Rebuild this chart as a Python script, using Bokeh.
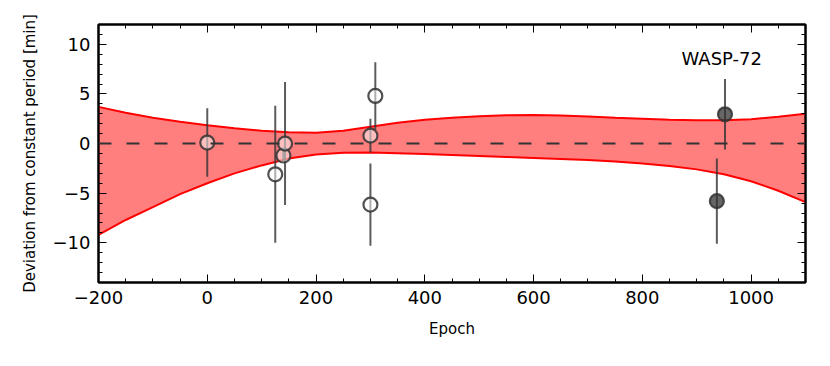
from bokeh.plotting import figure
from bokeh.models import (ColumnDataSource, LinearAxis, SingleIntervalTicker, Span,
                          Label, CustomJSTickFormatter, Range1d)
from bokeh.embed import file_html
from bokeh.resources import INLINE

# ---- data ----
# model envelope (upper / lower bound)
band_epoch = [-200, -150, -100, -50, 0, 50, 100, 150, 200, 250, 300, 350, 400, 450, 500,
              550, 600, 650, 700, 750, 800, 850, 900, 950, 1000, 1050, 1100]
band_upper = [3.7, 3.1, 2.6, 2.2, 1.85, 1.55, 1.3, 1.15, 1.1, 1.3, 1.7, 2.1, 2.4, 2.6, 2.75,
              2.85, 2.88, 2.82, 2.72, 2.6, 2.5, 2.4, 2.35, 2.35, 2.45, 2.7, 3.0]
band_lower = [-9.2, -7.7, -6.4, -5.1, -4.0, -3.0, -2.2, -1.5, -1.1, -0.92, -0.9, -0.97, -1.05,
              -1.15, -1.25, -1.35, -1.45, -1.55, -1.65, -1.8, -2.0, -2.25, -2.6, -3.1, -3.8,
              -4.75, -5.9]

# open points
open_epoch = [0, 125, 140, 143, 300, 300, 309]
open_dev = [0.1, -3.1, -1.2, 0.0, 0.8, -6.15, 4.8]
open_err = [3.45, 6.9, 0.6, 6.2, 1.7, 4.15, 3.4]

# filled points
fill_epoch = [937, 952]
fill_dev = [-5.8, 2.95]
fill_err = [4.3, 3.55]

x_label = "Epoch"
y_label = "Deviation from constant period [min]"
target_name = "WASP-72"

# ---- figure ----
p = figure(width=822, height=358, output_backend="svg", toolbar_location=None,
           x_range=Range1d(-200, 1100), y_range=Range1d(-14, 12),
           min_border_left=98, min_border_right=17, min_border_top=24, min_border_bottom=76)
p.xgrid.visible = False
p.ygrid.visible = False
p.outline_line_color = "black"
p.outline_line_width = 2
p.background_fill_color = "white"

fmt = CustomJSTickFormatter(code="return tick < 0 ? '\u2212' + (-tick) : String(tick);")
blank = CustomJSTickFormatter(code="return '';")
xt = SingleIntervalTicker(interval=200, num_minor_ticks=4)
yt = SingleIntervalTicker(interval=5, num_minor_ticks=5)

def style(ax, labels=True):
    ax.axis_line_color = "black"
    ax.axis_line_width = 2
    ax.major_tick_in = 8
    ax.major_tick_out = 0
    ax.minor_tick_in = 4
    ax.minor_tick_out = 0
    ax.major_tick_line_color = "black"
    ax.minor_tick_line_color = "black"
    ax.major_tick_line_width = 1
    ax.minor_tick_line_width = 1
    if labels:
        ax.major_label_text_font = "DejaVu Sans"
        ax.major_label_text_font_size = "18px"
        ax.major_label_text_color = "black"
        ax.major_label_standoff = 8
        ax.axis_label_text_font = "DejaVu Sans"
        ax.axis_label_text_font_size = "15px"
        ax.axis_label_text_font_style = "normal"
        ax.axis_label_text_color = "black"
    else:
        ax.formatter = blank
        ax.major_label_standoff = 0

p.xaxis.ticker = xt
p.yaxis.ticker = yt
p.xaxis.formatter = fmt
p.yaxis.formatter = fmt
style(p.xaxis[0])
style(p.yaxis[0])
p.xaxis.axis_label = x_label
p.yaxis.axis_label = y_label
p.xaxis.axis_label_standoff = 13
p.yaxis.axis_label_standoff = 11

top = LinearAxis(ticker=SingleIntervalTicker(interval=200, num_minor_ticks=4))
right = LinearAxis(ticker=SingleIntervalTicker(interval=5, num_minor_ticks=5))
style(top, labels=False)
style(right, labels=False)
p.add_layout(top, "above")
p.add_layout(right, "right")

# band
bsrc = ColumnDataSource(dict(x=band_epoch, lo=band_lower, hi=band_upper))
p.varea(x="x", y1="lo", y2="hi", source=bsrc, fill_color="red", fill_alpha=0.5)
p.line(x="x", y="hi", source=bsrc, line_color="red", line_width=2)
p.line(x="x", y="lo", source=bsrc, line_color="red", line_width=2)

# zero line
p.add_layout(Span(location=0, dimension="width", line_color="#333333", line_width=2,
                  line_dash="13 15"))

# error bars
def bars(xs, ys, es):
    src = ColumnDataSource(dict(x=xs, y0=[y - e for y, e in zip(ys, es)],
                                y1=[y + e for y, e in zip(ys, es)]))
    p.segment(x0="x", y0="y0", x1="x", y1="y1", source=src, line_color="#333333",
              line_alpha=0.8, line_width=2)

bars(open_epoch, open_dev, open_err)
bars(fill_epoch, fill_dev, fill_err)

p.scatter(open_epoch, open_dev, marker="circle", size=14, line_width=2.2,
          line_color="#333333", line_alpha=0.85, fill_color="white", fill_alpha=0.5)
p.scatter(fill_epoch, fill_dev, marker="circle", size=14, line_width=2.2,
          line_color="#333333", line_alpha=0.85, fill_color="#333333", fill_alpha=0.75)

p.add_layout(Label(x=872, y=8.6, text=target_name, text_font="DejaVu Sans",
                   text_font_size="18px", text_baseline="middle", text_color="black"))

open("out.html", "w").write(file_html(p, INLINE))
